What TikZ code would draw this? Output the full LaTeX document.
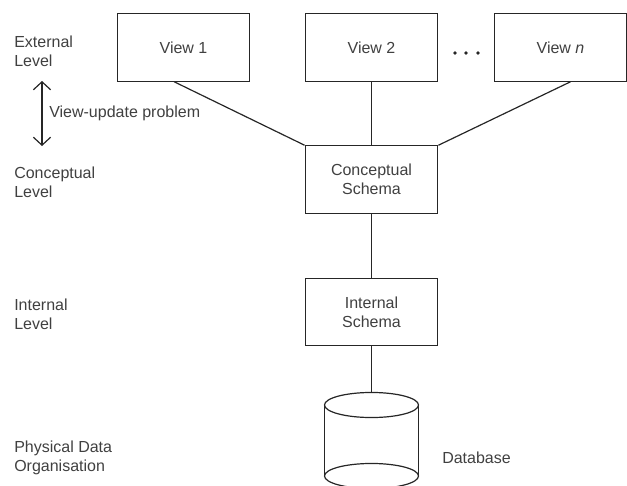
\documentclass[tikz,border=0pt]{standalone}
\usepackage{fontspec}
\setmainfont{Liberation Sans}
\usepackage{xcolor}
\definecolor{LevelText}{rgb}{0.25, 0.25, 0.25}
\definecolor{SchemaLine}{rgb}{0.15, 0.15, 0.15}
\usepackage{tikz}
\usetikzlibrary{positioning,arrows.meta}
\tikzset{
	schemabox/.style={draw=SchemaLine, line width=0.9pt, text=LevelText, align=center, inner sep=0pt, minimum width=99.5pt, minimum height=50.5pt, font=\fontsize{12}{14.25}\selectfont},
	levellabel/.style={anchor=west, align=left, inner sep=0pt, text=LevelText, font=\fontsize{12}{14.25}\selectfont},
	link/.style={draw=SchemaLine, line width=0.9pt}
}

\begin{document}
\begin{tikzpicture}[x=0.75pt, y=-0.75pt]
	\useasboundingbox (0,0) rectangle (627,485);
	\node[levellabel] (extlevel) at (14,51.5) {External\\Level};
	\node[levellabel] (conlevel) at (14,182.5) {Conceptual\\Level};
	\node[levellabel] (intlevel) at (14,314.5) {Internal\\Level};
	\node[levellabel] (physlevel) at (14,458) {Physical Data\\Organisation};
	\node[schemabox] (view1) at (183.5,47.5) {View 1};
	\node[schemabox] (view2) at (371.5,47.5) {View 2};
	\node[schemabox] (viewn) at (560.5,47.5) {View \textit{n}};
	\node[schemabox] (concept) at (371.5,179.5) {Conceptual\\Schema};
	\node[schemabox] (internal) at (371.5,312) {Internal\\Schema};
	% database drum
	\coordinate (dbtop) at (371.5,392.5);
	\draw[link] (324.5,405) -- (324.5,476) (418.5,405) -- (418.5,476);
	\draw[link, fill=white] (371.5,405) ellipse [x radius=35.25pt, y radius=9.4pt];
	\draw[link] (371.5,476) ellipse [x radius=35.25pt, y radius=9.4pt];
	\node[levellabel] (dblabel) at (442,458) {Database};
	\foreach \dx in {455,466,478}
		\fill[SchemaLine] (\dx,53) circle (1.8);
	\coordinate (uptop) at (42,81);
	\coordinate (upbot) at (42,146);
	\draw[link, {Straight Barb[length=6pt, width=13pt]}-{Straight Barb[length=6pt, width=13pt]}] (uptop) -- (upbot);
	\node[levellabel] (uplabel) at (49,113) {View-update problem};
	\draw[link] ([xshift=-7pt]view1.south) -- (concept.north west);
	\draw[link] (view2.south) -- (concept.north);
	\draw[link] ([xshift=7.5pt]viewn.south) -- (concept.north east);
	\draw[link] (concept.south) -- (internal.north);
	\draw[link] (internal.south) -- (dbtop);
\end{tikzpicture}
\end{document}
